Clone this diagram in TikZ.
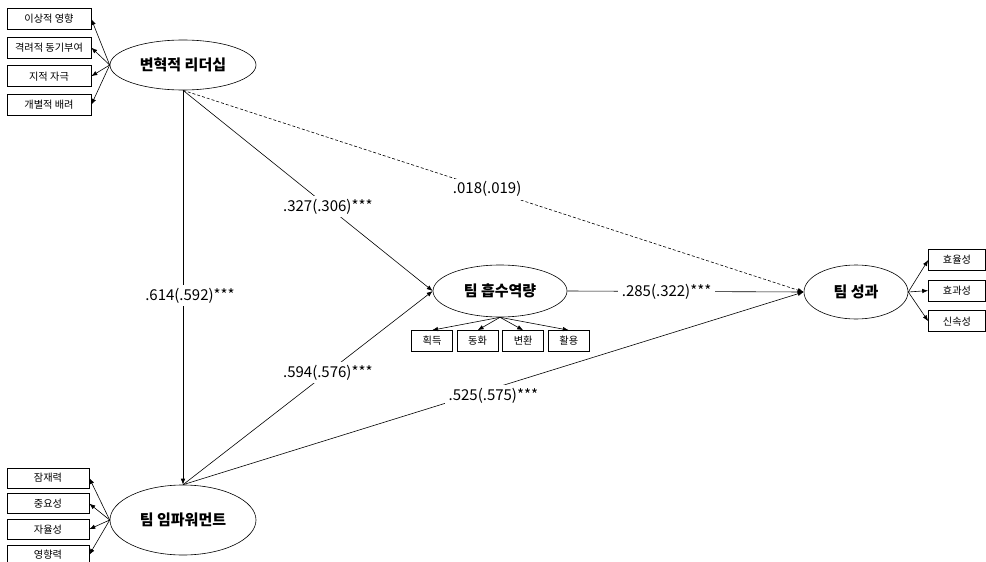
\documentclass[tikz,border=0pt]{standalone}
\usepackage{fontspec}
\setmainfont{Noto Sans CJK KR}
\usetikzlibrary{positioning, shapes.geometric, arrows.meta}

\begin{document}
\begin{tikzpicture}[x=1pt, y=-1pt, line width=0.6pt,
latent/.style={ellipse, draw=black, inner sep=0pt, font=\fontsize{15}{17}\selectfont\bfseries},
item/.style={rectangle, draw=black, inner sep=0pt, minimum height=21pt, font=\fontsize{10.2}{12}\selectfont},
coef/.style={fill=white, inner xsep=4pt, inner ysep=3pt, font=\fontsize{15}{17}\selectfont},
effect/.style={-{Latex[length=6pt,width=4.5pt]}}]
\useasboundingbox (0,0) rectangle (986,562);

% latent variables
\node (TL) [latent, minimum width=146pt, minimum height=50pt] at (183,65) {변혁적 리더십};
\node (TE) [latent, minimum width=146pt, minimum height=70pt] at (183,520) {팀 임파워먼트};
\node (AC) [latent, minimum width=134pt, minimum height=52pt] at (500,291) {팀 흡수역량};
\node (TP) [latent, minimum width=104pt, minimum height=54pt] at (856,292) {팀 성과};

% indicators of leadership
\node (L1) [item, minimum width=84pt] at (49,19) {이상적 영향};
\node (L2) [item, minimum width=84pt, below=7pt of L1] {격려적 동기부여};
\node (L3) [item, minimum width=84pt, below=7pt of L2] {지적 자극};
\node (L4) [item, minimum width=84pt, below=7pt of L3] {개별적 배려};

% indicators of empowerment
\node (E1) [item, minimum width=82pt, minimum height=20pt] at (48,478) {잠재력};
\node (E2) [item, minimum width=82pt, minimum height=20pt, below=5pt of E1] {중요성};
\node (E3) [item, minimum width=82pt, minimum height=20pt, below=5pt of E2] {자율성};
\node (E4) [item, minimum width=82pt, minimum height=20pt, below=5pt of E3] {영향력};

% indicators of absorptive capacity
\node (A1) [item, minimum width=41pt] at (432,341) {획득};
\node (A2) [item, minimum width=41pt, right=4pt of A1] {동화};
\node (A3) [item, minimum width=41pt, right=4pt of A2] {변환};
\node (A4) [item, minimum width=41pt, right=4pt of A3] {활용};

% indicators of performance
\node (P1) [item, minimum width=57pt] at (957,260) {효율성};
\node (P2) [item, minimum width=57pt, below=9pt of P1] {효과성};
\node (P3) [item, minimum width=57pt, below=9pt of P2] {신속성};

\draw[effect] (TL.west) -- (L1.east);
\draw[effect] (TL.west) -- (L2.east);
\draw[effect] (TL.west) -- (L3.east);
\draw[effect] (TL.west) -- (L4.east);

\draw[effect] (TE.west) -- (E1.east);
\draw[effect] (TE.west) -- (E2.east);
\draw[effect] (TE.west) -- (E3.east);
\draw[effect] (TE.west) -- (E4.east);

\draw[effect] (AC.south) -- (A1.north);
\draw[effect] (AC.south) -- (A2.north);
\draw[effect] (AC.south) -- (A3.north);
\draw[effect] (AC.south) -- (A4.north);

\draw[effect] (TP.east) -- (P1.west);
\draw[effect] (TP.east) -- (P2.west);
\draw[effect] (TP.east) -- (P3.west);

% structural paths
\draw[effect] (TL.south) -- node[coef, pos=0.58] {.327(.306)***} (AC.west);
\draw[effect, dash pattern=on 3pt off 2pt] (TL.south) -- node[coef, pos=0.49] {.018(.019)} (TP.west);
\draw[effect] (TL.south) -- node[coef, pos=0.52, xshift=7pt] {.614(.592)***} (TE.north);
\draw[effect] (TE.north) -- node[coef, pos=0.58] {.594(.576)***} (AC.west);
\draw[effect] (TE.north) -- node[coef, pos=0.5, yshift=-7pt] {.525(.575)***} (TP.west);
\draw[effect] (AC.east) -- node[coef, pos=0.42] {.285(.322)***} (TP.west);
\end{tikzpicture}
\end{document}
